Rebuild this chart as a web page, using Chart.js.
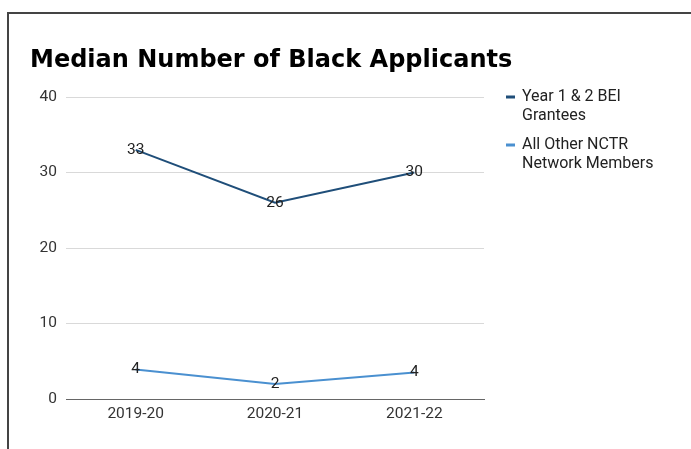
<!DOCTYPE html>
<html>
<head>
<meta charset="utf-8">
<script src="https://cdn.jsdelivr.net/npm/chart.js@4.4.0/dist/chart.umd.min.js"></script>
<style>
  html, body { margin: 0; padding: 0; background: #fff; }
  #wrap { position: relative; width: 691px; height: 449px; overflow: hidden; }
  #frame { position: absolute; left: 7px; top: 12px; right: -5px; bottom: -5px;
           border-top: 2px solid #444; border-left: 2px solid #444; }
  canvas { position: absolute; left: 0; top: 0; }
</style>
</head>
<body>
<div id="wrap">
  <div id="frame"></div>
  <canvas id="chart" width="691" height="449"></canvas>
</div>
<script>
'use strict';

// ── DATA ──
const years   = ['2019-20', '2020-21', '2021-22'];
const beiVals = [33, 26, 30];
const nctrVals = [3.9, 2, 3.5];
const seriesNames = [['Year 1 & 2 BEI', 'Grantees'], ['All Other NCTR', 'Network Members']];
const yTicks  = [0, 10, 20, 30, 40];

const COLORS = ['#1f4e79', '#4a90d0'];
const FONT = "Roboto, 'Noto Sans', sans-serif";

// ── TITLE + LEGEND + POINT LABELS ──
const decor = {
  id: 'decor',
  afterDatasetsDraw(chart) {
    const ctx = chart.ctx;
    ctx.save();
    // point labels, centred on the point
    ctx.font = '15.5px ' + FONT;
    ctx.fillStyle = '#222';
    ctx.textAlign = 'center';
    ctx.textBaseline = 'middle';
    chart.data.datasets.forEach((ds, i) => {
      chart.getDatasetMeta(i).data.forEach((pt, j) => {
        ctx.fillText(String(Math.round(ds.data[j])), pt.x, pt.y);
      });
    });
    // title
    ctx.font = "bold 24px 'DejaVu Sans', sans-serif";
    ctx.fillStyle = '#000';
    ctx.textAlign = 'left';
    ctx.textBaseline = 'alphabetic';
    ctx.fillText('Median Number of Black Applicants', 30, 67);
    // legend
    ctx.textBaseline = 'middle';
    const lx = chart.chartArea.right + 22;
    let ly = 97;
    seriesNames.forEach((lines, i) => {
      ctx.fillStyle = COLORS[i];
      ctx.fillRect(lx, ly - 1.5, 9, 3);
      ctx.fillStyle = '#222';
      ctx.font = '16px ' + FONT;
      lines.forEach((t, k) => ctx.fillText(t, lx + 16, ly + k * 19));
      ly += 48;
    });
    ctx.restore();
  }
};

new Chart(document.getElementById('chart'), {
  type: 'line',
  data: {
    labels: years,
    datasets: [
      { label: seriesNames[0].join(' '), data: beiVals, borderColor: COLORS[0], borderWidth: 2, pointRadius: 0, tension: 0 },
      { label: seriesNames[1].join(' '), data: nctrVals, borderColor: COLORS[1], borderWidth: 2, pointRadius: 0, tension: 0 },
    ]
  },
  options: {
    responsive: false,
    animation: false,
    layout: { padding: { left: 36, right: 207, top: 97, bottom: 0 } },
    plugins: { legend: { display: false }, title: { display: false }, tooltip: { enabled: false } },
    scales: {
      x: {
        offset: true,
        grid: { display: false, drawTicks: false },
        border: { display: true, color: '#666', width: 1 },
        ticks: { color: '#333', font: { family: FONT, size: 15.5 }, padding: 6 },
        afterFit: s => { s.height = 50; }
      },
      y: {
        min: 0, max: 40,
        afterBuildTicks: s => { s.ticks = yTicks.map(v => ({ value: v })); },
        grid: { color: '#d9d9d9', drawTicks: false },
        border: { display: false },
        ticks: { color: '#333', font: { family: FONT, size: 15.5 }, padding: 9 },
        afterFit: s => { s.width = 30; }
      }
    }
  },
  plugins: [decor]
});
</script>
</body>
</html>
